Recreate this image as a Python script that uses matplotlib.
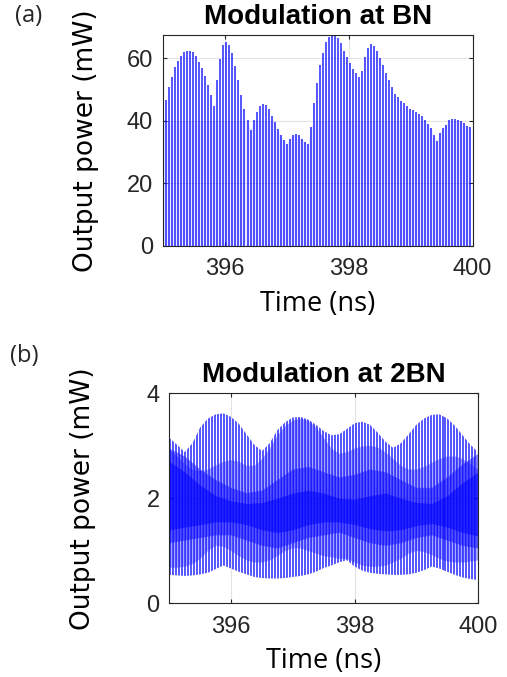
import matplotlib
matplotlib.use('Agg')
import matplotlib.pyplot as plt
import numpy as np

# ---- data ---------------------------------------------------------------
# pulse train timing (ns)
PULSE_T0 = 395.01
PULSE_DT = 0.0485
N_PULSES = 103
pulse_t = PULSE_T0 + PULSE_DT * np.arange(N_PULSES)

# (a) peak power of every pulse, mW
peaks_bn = [48.0, 46.6, 50.7, 54.1, 57.1, 59.2, 60.7, 61.9, 62.3, 62.3,
            62.0, 60.8, 58.9, 56.8, 54.3, 51.4, 48.2, 44.7, 53.0, 59.7,
            64.2, 65.3, 64.4, 61.6, 57.5, 53.0, 48.2, 43.9, 40.4, 37.2,
            40.4, 42.9, 44.7, 45.4, 45.1, 43.9, 41.5, 39.5, 37.4, 35.4,
            33.8, 32.7, 34.3, 35.4, 35.7, 35.3, 34.3, 33.3, 32.5, 37.9,
            45.6, 52.0, 57.8, 61.8, 65.3, 66.7, 67.3, 67.1, 66.4, 64.8,
            62.4, 60.3, 58.4, 56.6, 55.4, 53.9, 56.0, 60.5, 63.2, 64.5,
            63.9, 62.4, 60.0, 57.8, 55.4, 53.0, 50.7, 48.7, 47.7, 46.4,
            45.6, 44.7, 43.9, 43.4, 42.9, 42.1, 41.5, 40.4, 38.9, 37.6,
            35.4, 33.5, 36.2, 37.6, 38.8, 40.2, 40.5, 40.6, 40.4, 40.0,
            39.2, 38.4, 38.1]

# (b) envelopes of the 2BN train, sampled every 0.125 ns
env_t = np.linspace(395.0, 400.0, 41)
env_hi = [3.15, 3.02, 2.88, 3.05, 3.35, 3.52, 3.60, 3.62, 3.55, 3.42,
          3.22, 3.02, 2.90, 3.05, 3.30, 3.45, 3.54, 3.55, 3.50, 3.40,
          3.28, 3.20, 3.22, 3.32, 3.43, 3.46, 3.40, 3.25, 3.08, 2.96,
          3.05, 3.22, 3.40, 3.52, 3.59, 3.60, 3.52, 3.38, 3.20, 3.02,
          2.88]
env_lo = [0.54, 0.53, 0.52, 0.53, 0.55, 0.58, 0.65, 0.72, 0.66, 0.60,
          0.55, 0.50, 0.48, 0.47, 0.47, 0.48, 0.50, 0.52, 0.55, 0.60,
          0.67, 0.72, 0.78, 0.82, 0.70, 0.62, 0.58, 0.56, 0.55, 0.54,
          0.54, 0.55, 0.58, 0.63, 0.70, 0.66, 0.60, 0.54, 0.49, 0.46,
          0.44]
# secondary (lighter) layer
sub_hi = [2.92, 2.80, 2.65, 2.55, 2.52, 2.55, 2.63, 2.70, 2.73, 2.70,
          2.62, 2.62, 2.75, 2.95, 3.20, 3.38, 3.48, 3.52, 3.48, 3.35,
          3.15, 2.95, 2.85, 2.88, 2.95, 2.99, 3.00, 2.97, 2.88, 2.75,
          2.62, 2.55, 2.55, 2.60, 2.68, 2.75, 2.80, 2.80, 2.75, 2.65,
          2.55]
sub_lo = [0.68, 0.68, 0.70, 0.75, 0.85, 1.00, 1.10, 1.08, 1.00, 0.90,
          0.82, 0.78, 0.78, 0.82, 0.90, 1.00, 1.05, 1.05, 1.00, 0.95,
          0.90, 0.88, 0.85, 0.85, 0.78, 0.72, 0.70, 0.70, 0.72, 0.78,
          0.85, 0.95, 1.00, 0.98, 0.92, 0.85, 0.80, 0.78, 0.78, 0.80,
          0.82]
# dense core, sampled every 0.25 ns
core_t = np.linspace(395.0, 400.0, 21)
mid_hi = [2.95, 2.80, 2.55, 2.35, 2.20, 2.10, 2.15, 2.35, 2.55, 2.60,
          2.50, 2.40, 2.45, 2.55, 2.50, 2.35, 2.20, 2.20, 2.40, 2.65,
          2.85]
mid_lo = [1.15, 1.20, 1.25, 1.30, 1.30, 1.20, 1.10, 1.05, 1.15, 1.25,
          1.30, 1.35, 1.25, 1.15, 1.10, 1.15, 1.25, 1.30, 1.20, 1.10,
          1.05]
core_hi = [2.70, 2.50, 2.25, 2.05, 1.95, 1.90, 1.92, 2.00, 2.10, 2.15,
           2.10, 2.00, 1.98, 2.05, 2.10, 2.00, 1.92, 1.90, 2.05, 2.30,
           2.50]
core_lo = [1.40, 1.45, 1.50, 1.55, 1.55, 1.50, 1.40, 1.35, 1.40, 1.50,
           1.55, 1.55, 1.50, 1.42, 1.38, 1.40, 1.48, 1.52, 1.45, 1.35,
           1.28]

xticks = [396, 398, 400]

# ---- style --------------------------------------------------------------
BLUE = '#0000ff'
FRAME = '#262626'
GRID = '#e3e3e3'
TICK_FONT = 'Liberation Sans'
LABEL_FONT = 'Open Sans'
YLABEL_FONT = 'DejaVu Sans'

plt.rcParams.update({
    'font.family': TICK_FONT,
    'text.color': FRAME,
    'axes.edgecolor': FRAME,
    'axes.linewidth': 0.8,
    'xtick.direction': 'in',
    'ytick.direction': 'in',
    'xtick.major.size': 3,
    'ytick.major.size': 3,
    'xtick.color': FRAME,
    'ytick.color': FRAME,
    'xtick.labelsize': 17,
    'ytick.labelsize': 17,
})

fig = plt.figure(figsize=(5.07, 6.77), dpi=100)
ax1 = fig.add_axes([0.321, 0.637, 0.611, 0.311])
ax2 = fig.add_axes([0.334, 0.109, 0.609, 0.310])


def style_axes(ax, title, ypad):
    ax.set_xlim(395, 400)
    ax.set_xticks(xticks)
    ax.tick_params(top=True, right=True)
    ax.tick_params(axis='x', pad=9)
    ax.tick_params(axis='y', pad=7)
    ax.grid(True, color=GRID, linewidth=0.8)
    ax.set_axisbelow(True)
    ax.set_title(title, fontsize=20, fontweight='bold', family=TICK_FONT,
                 color='black', pad=8)
    ax.set_xlabel('Time (ns)', fontsize=19.5, family=LABEL_FONT, labelpad=7)
    ax.set_ylabel('Output power (mW)', fontsize=19, family=YLABEL_FONT, labelpad=ypad)


def clipped_strokes(ax, t, lo, hi, offset, alpha):
    # pulse strokes limited to the band between two envelopes
    band = ax.fill_between(t, lo, hi, color='none', lw=0)
    lines = ax.vlines(pulse_t + offset, 0, 4, colors=BLUE, linewidth=1.1, alpha=alpha)
    lines.set_clip_path(band.get_paths()[0], ax.transData)


# ---- (a) modulation at BN -----------------------------------------------
ax1.fill_between(pulse_t, 0, np.minimum(peaks_bn, 40), color=BLUE, alpha=0.08, lw=0)
ax1.vlines(pulse_t, 0, peaks_bn, colors=BLUE, linewidth=1.1, alpha=0.85)
style_axes(ax1, 'Modulation at BN', 20)
ax1.set_ylim(0, max(peaks_bn) + 0.1)
ax1.set_yticks([0, 20, 40, 60])

# ---- (b) modulation at 2BN ----------------------------------------------
ax2.fill_between(env_t, sub_lo, sub_hi, color=BLUE, alpha=0.15, lw=0)
ax2.fill_between(core_t, mid_lo, mid_hi, color=BLUE, alpha=0.25, lw=0)
ax2.fill_between(core_t, core_lo, core_hi, color=BLUE, alpha=0.55, lw=0)
clipped_strokes(ax2, env_t, env_lo, env_hi, 0.0, 0.85)
clipped_strokes(ax2, env_t, sub_lo, sub_hi, PULSE_DT / 2, 0.3)
clipped_strokes(ax2, core_t, mid_lo, mid_hi, PULSE_DT / 2, 0.45)
style_axes(ax2, 'Modulation at 2BN', 36)
ax2.set_ylim(0, 4)
ax2.set_yticks([0, 2, 4])

# panel tags
fig.text(0.03, 0.976, '(a)', fontsize=17, family=LABEL_FONT, va='center')
fig.text(0.02, 0.474, '(b)', fontsize=17, family=LABEL_FONT, va='center')

fig.savefig('out.png', dpi=100, facecolor='white')
